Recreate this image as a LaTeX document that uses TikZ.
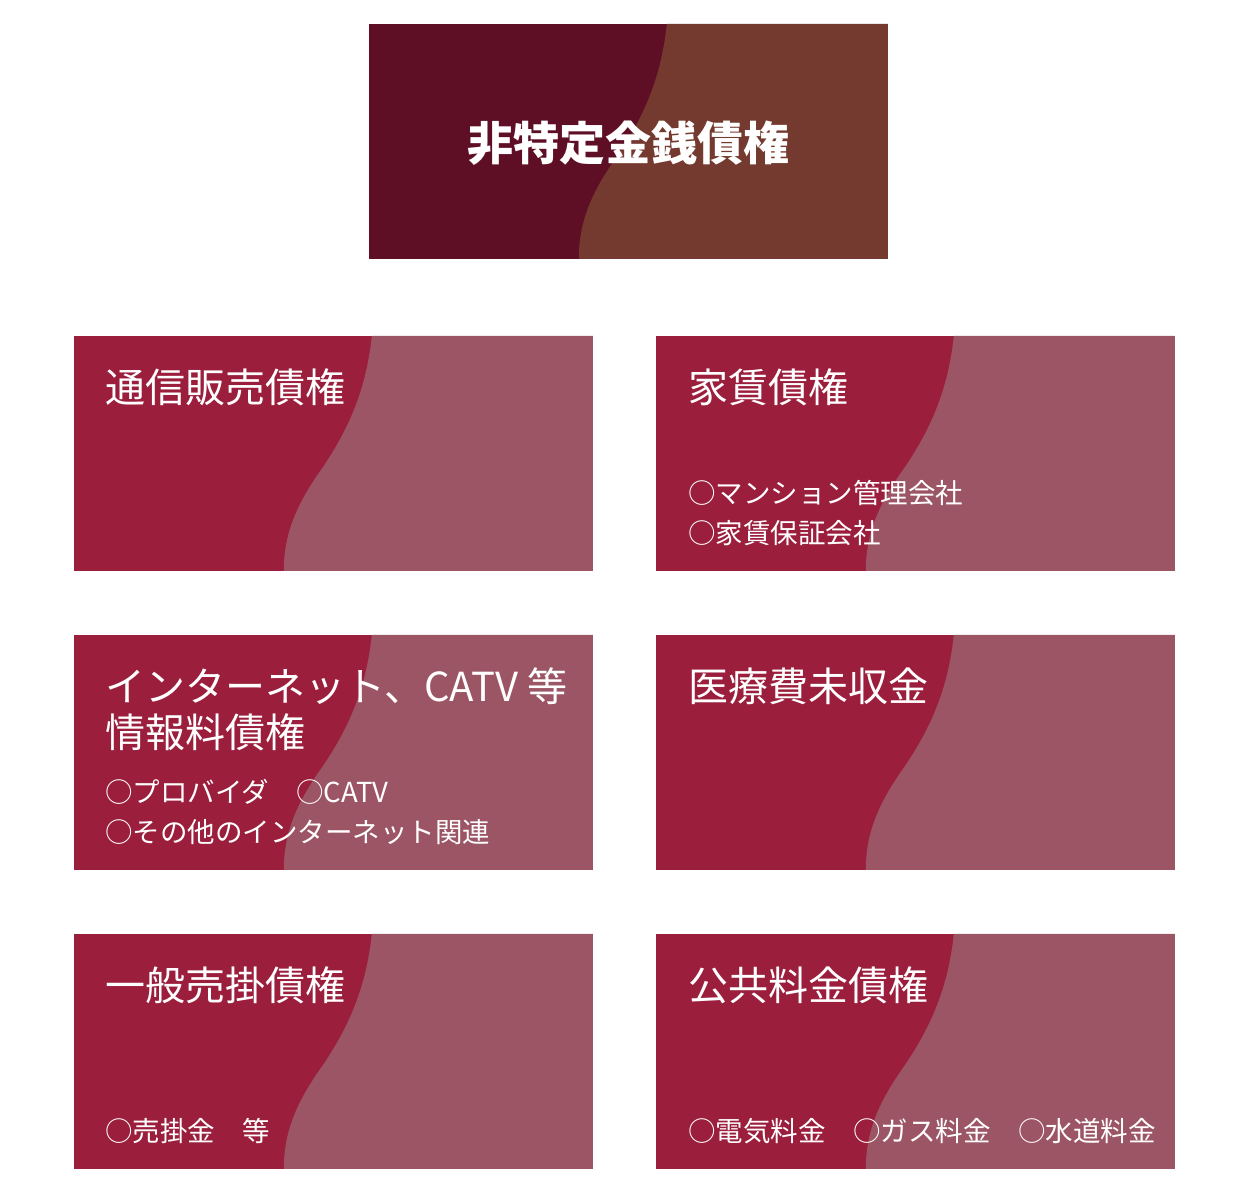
\documentclass[tikz,border=0pt]{standalone}
\usepackage{fontspec}
\setmainfont{Noto Sans CJK JP}
\definecolor{headleft}{HTML}{5E0F26}
\definecolor{headright}{HTML}{743A2F}
\definecolor{cardleft}{HTML}{9B1E3C}
\definecolor{cardright}{HTML}{9C5565}
\begin{document}
\begin{tikzpicture}[x=1pt,y=1pt,
    card/.style={rectangle, inner sep=0pt, minimum width=519pt, minimum height=235pt, fill=#1},
    cardtitle/.style={anchor=base west, inner sep=0pt, text=white, font=\fontsize{40}{40}\selectfont},
    carditem/.style={anchor=base west, inner sep=0pt, text=white, font=\fontsize{27.5}{30}\selectfont}]
  \useasboundingbox (0,0) rectangle (1257,-1194);
  \node[card=headleft] (head) at (628.5,-141.5) {};
  \foreach \name/\x/\y in {tsuhan/333.5/453.5, yachin/915.5/453.5, joho/333.5/752.5,
                           iryo/915.5/752.5, urikake/333.5/1051.5, kokyo/915.5/1051.5} % the six cards
    \node[card=cardleft] (\name) at (\x,-\y) {};
  % right-hand wave of each card
  \foreach \name/\col in {head/headright, tsuhan/cardright, yachin/cardright, joho/cardright,
                          iryo/cardright, urikake/cardright, kokyo/cardright}
    \fill[\col, shift={(\name.north west)}] (298,0) .. controls (292,-60) and (270,-100) .. (250,-130)
      .. controls (225,-165) and (210,-195) .. (210,-235) -- (519,-235) -- (519,0) -- cycle;
  \node[anchor=base, text=white, font=\fontsize{46}{46}\selectfont\bfseries] (headtitle) at ([yshift=-19pt]head.center) {非特定金銭債権};
  % titles
  \node[cardtitle] (tsuhantitle) at ([shift={(31,-67)}]tsuhan.north west) {通信販売債権};
  \node[cardtitle] (yachintitle) at ([shift={(32,-67)}]yachin.north west) {家賃債権};
  \node[cardtitle] (johotitle) at ([shift={(31,-67)}]joho.north west) {インターネット、CATV 等};
  \node[cardtitle] (johotitleb) at ([shift={(31,-113)}]joho.north west) {情報料債権};
  \node[cardtitle] (iryotitle) at ([shift={(32,-67)}]iryo.north west) {医療費未収金};
  \node[cardtitle] (urikaketitle) at ([shift={(31,-67)}]urikake.north west) {一般売掛債権};
  \node[cardtitle] (kokyotitle) at ([shift={(32,-67)}]kokyo.north west) {公共料金債権};
  % items
  \node[carditem] (yachinitem) at ([shift={(32,-168)}]yachin.north west) {○マンション管理会社};
  \node[carditem] (yachinitemb) at ([shift={(32,-208)}]yachin.north west) {○家賃保証会社};
  \node[carditem] (johoitem) at ([shift={(31,-168)}]joho.north west) {○プロバイダ　○CATV};
  \node[carditem] (johoitemb) at ([shift={(31,-208)}]joho.north west) {○その他のインターネット関連};
  \node[carditem] (urikakeitem) at ([shift={(31,-208)}]urikake.north west) {○売掛金　等};
  \node[carditem] (kokyoitem) at ([shift={(32,-208)}]kokyo.north west) {○電気料金　○ガス料金　○水道料金};
\end{tikzpicture}
\end{document}
